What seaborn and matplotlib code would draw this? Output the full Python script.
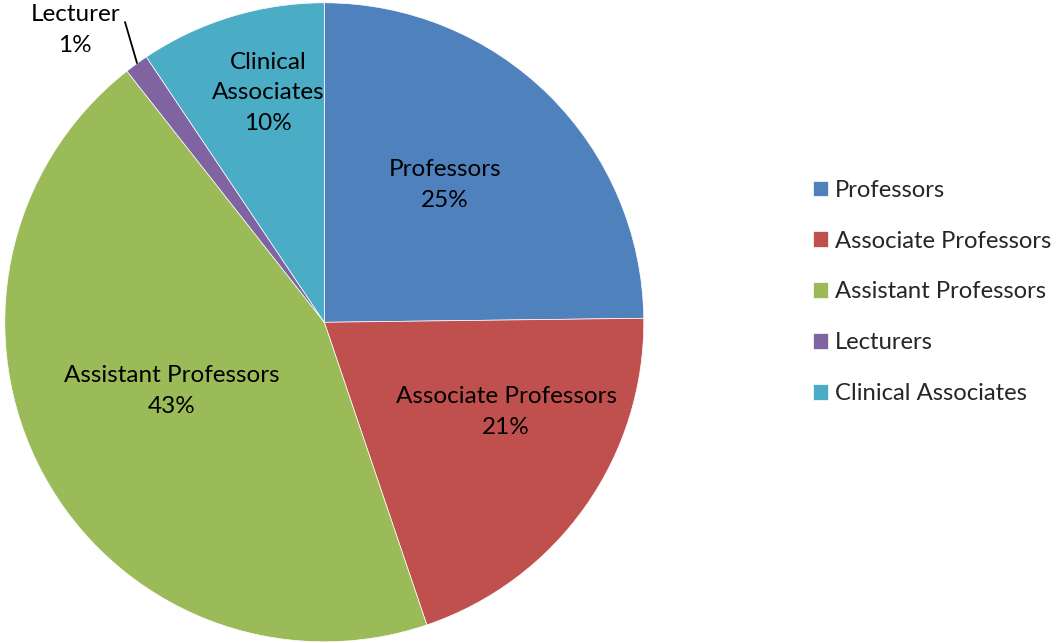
import matplotlib
matplotlib.use("Agg")
import matplotlib.pyplot as plt
import seaborn as sns

sns.set_theme(style="white")
plt.rcParams["font.family"] = ["Lato", "DejaVu Sans"]

# ── Data ───────────────────────────────────────────────────────────────────────
categories = ["Professors", "Associate Professors", "Assistant Professors",
              "Lecturers", "Clinical Associates"]
shares = [24.8, 20.0, 44.6, 1.2, 9.4]
slice_labels = ["Professors\n25%", "Associate Professors\n21%",
                "Assistant Professors\n43%", "Lecturer\n1%",
                "Clinical\nAssociates\n10%"]
colors = ["#4F81BD", "#C0504D", "#9BBB59", "#8064A2", "#4BACC6"]

# label anchor positions (data coords, pie radius = 1)
label_pos = [(0.378, 0.430), (0.569, -0.281), (-0.477, -0.215),
             (-0.780, 0.915), (-0.176, 0.718)]

W, H = 1057, 643
CX, CY, R = 324.3, 322.3, 319.5   # pie centre / radius in pixels (from top-left)
fig = plt.figure(figsize=(W / 100, H / 100), dpi=100)
ax = fig.add_axes([(CX - R) / W, (H - CY - R) / H, 2 * R / W, 2 * R / H])

wedges, _ = ax.pie(shares, colors=colors, startangle=90, counterclock=False,
                   radius=1.0, wedgeprops=dict(edgecolor="white", linewidth=0.5))
ax.set_xlim(-1, 1)
ax.set_ylim(-1, 1)
ax.set_aspect("equal")
ax.axis("off")

for txt, (x, y) in zip(slice_labels, label_pos):
    ax.text(x, y, txt, ha="center", va="center", fontsize=17.5,
            linespacing=1.55, color="black", clip_on=False)

# leader line for the tiny Lecturer slice
ax.plot([(125 - CX) / R, (137 - CX) / R],
        [(CY - 22) / R, (CY - 63) / R], color="black", lw=1.3,
        clip_on=False)

leg = fig.legend(wedges, categories, loc="center left",
                 bbox_to_anchor=(801 / W, 1 - 292 / H), frameon=False,
                 fontsize=17.2, handlelength=0.62, handleheight=0.62,
                 handletextpad=0.3, labelspacing=1.25, borderpad=0)

fig.savefig("out.png", dpi=100)
